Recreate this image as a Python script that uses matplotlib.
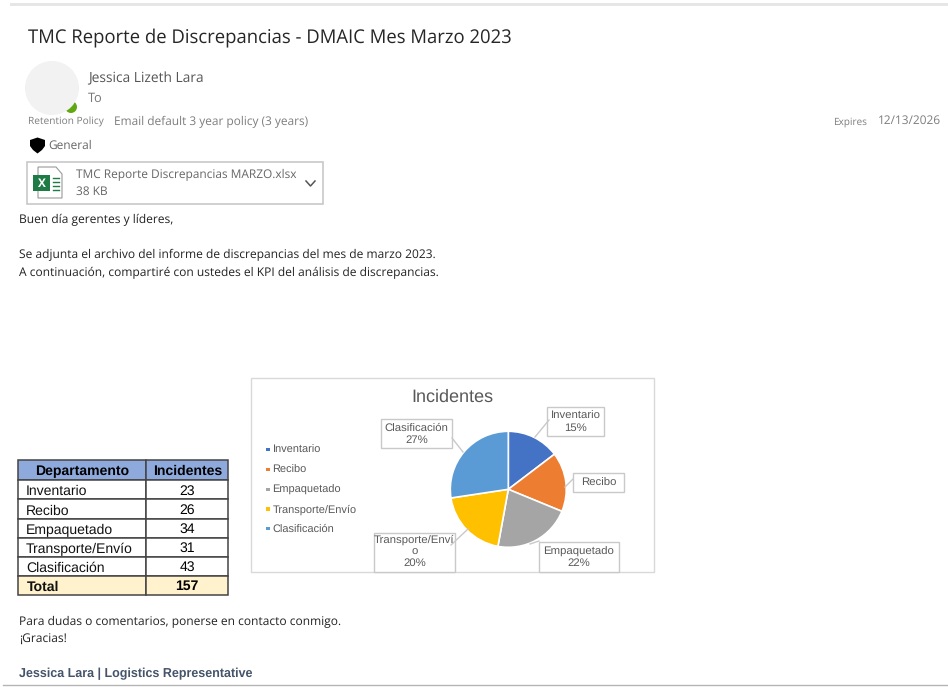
import matplotlib
matplotlib.use("Agg")
import matplotlib.pyplot as plt
from matplotlib.patches import Rectangle, Circle, Polygon

plt.rcParams["text.hinting"] = "no_hinting"

departments = ["Inventario", "Recibo", "Empaquetado", "Transporte/Envío", "Clasificación"]
incidents = [23, 26, 34, 31, 43]
total = 157
colors = ["#4472C4", "#ED7D31", "#A5A5A5", "#FFC000", "#5B9BD5"]
pie_labels = ["Inventario\n15%", "Recibo", "Empaquetado\n22%", "Transporte/Enví\no\n20%", "Clasificación\n27%"]

UI = "Open Sans"
ARIAL = "Liberation Sans"
INK = "#3a3a3a"
CHART = "#595959"
BODY = 8.62

fig = plt.figure(figsize=(9.48, 6.87), dpi=100)
ax = fig.add_axes([0, 0, 1, 1])
ax.set_xlim(0, 948)
ax.set_ylim(687, 0)
ax.axis("off")


def txt(x, y, s, size, color=INK, family=UI, ha="left", weight="normal", **kw):
    # text sat a bit high against the screenshot, so nudge it down
    ax.text(x, y + 1.5, s, fontsize=size, color=color, family=family, ha=ha, va="center",
            fontweight=weight, **kw)


def box(x0, y0, x1, y1, face="white", edge="#d0d0d0", lw=1.0, z=2):
    ax.add_patch(Rectangle((x0, y0), x1 - x0, y1 - y0, fc=face, ec=edge, lw=lw, zorder=z))


# email window edges
ax.fill_between([10, 948], 3, 6, color="#e6e6e6", lw=0)
ax.plot([3, 948], [685, 685], color="#b5b5b5", lw=1)

# header
txt(28, 36, "TMC Reporte de Discrepancias - DMAIC Mes Marzo 2023", 13.33, color="#262626")
ax.add_patch(Circle((71, 107), 6, fc="#5fa80f", ec="none"))
ax.add_patch(Circle((52, 88), 27, fc="#f2f2f2", ec="none", zorder=2))
txt(88, 77, "Jessica Lizeth Lara", 9.95, color="#555555")
txt(88, 97, "To", 9.2, color="#777777")
txt(28, 120.5, "Retention Policy", 7.3, color="#7d7d7d")
txt(114, 120, "Email default 3 year policy (3 years)", 8.6, color="#7d7d7d")
txt(833, 120.5, "Expires", 7.2, color="#7d7d7d")
txt(878, 119.5, "12/13/2026", 8.6, color="#7d7d7d")

# classification shield
ax.add_patch(Polygon([(30, 140), (37.5, 137.5), (45, 140), (45, 146), (42, 150), (37.5, 153.5),
                      (33, 150), (30, 146)], fc="black", ec="none"))
txt(48, 144.5, "General", 8.6, color="#666666")

# attachment
box(27.5, 161.5, 323.5, 203.5, edge="#c8c8c8", lw=1.2)
ax.add_patch(Polygon([(38, 167), (56, 167), (62, 174), (62, 198), (38, 198)], fc="white", ec="#9a9a9a", lw=0.8, zorder=3))
ax.add_patch(Rectangle((33.5, 175), 17, 16, fc="#1e7b45", ec="none", zorder=4))
ax.text(42, 183.5, "X", fontsize=8.5, color="white", family=UI, fontweight="bold", ha="center", va="center", zorder=5)
for row_y in (178, 182, 186, 190):
    ax.plot([53, 59], [row_y, row_y], color="#1e7b45", lw=1.0, zorder=4)
txt(76, 173.5, "TMC Reporte Discrepancias MARZO.xlsx", 8.6, color="#666666")
txt(76, 190, "38 KB", 8.6, color="#666666")
ax.plot([306, 310.5, 315], [181, 186, 181], color="#555555", lw=1.1)

# body
txt(19, 218, "Buen día gerentes y líderes,", BODY, color="#222222")
txt(19, 253.5, "Se adjunta el archivo del informe de discrepancias del mes de marzo 2023.", BODY, color="#222222")
txt(19, 271, "A continuación, compartiré con ustedes el KPI del análisis de discrepancias.", BODY, color="#222222")
txt(19, 620.5, "Para dudas o comentarios, ponerse en contacto conmigo.", BODY, color="#222222")
txt(19, 638, "¡Gracias!", BODY, color="#222222")
txt(19, 672.5, "Jessica Lara | Logistics Representative", 9.0, color="#44546A", family=ARIAL, weight="bold")

# table
col_x = [18.5, 146.5, 228]
row_y = [460, 480, 499, 518.5, 537.5, 556.5, 575.5, 594.5]
rows = [("Departamento", "Incidentes")] + list(zip(departments, incidents)) + [("Total", total)]
for i, (name, value) in enumerate(rows):
    face = "#8EA9DB" if i == 0 else "#FFF2CC" if i == len(rows) - 1 else "white"
    bold = "bold" if i == 0 or i == len(rows) - 1 else "normal"
    box(col_x[0], row_y[i], col_x[1], row_y[i + 1], face=face, edge="#444444", lw=1.1)
    box(col_x[1], row_y[i], col_x[2], row_y[i + 1], face=face, edge="#444444", lw=1.1)
    yc = (row_y[i] + row_y[i + 1]) / 2
    if i == 0:
        txt((col_x[0] + col_x[1]) / 2, yc, name, 10.05, color="black", family=ARIAL, ha="center", weight=bold, zorder=4)
    else:
        txt(26 if i < len(rows) - 1 else 27, yc + 0.7, name, 10.05, color="#111111", family=ARIAL, weight=bold, zorder=4)
    txt((col_x[1] + col_x[2]) / 2, yc, str(value), 10.05, color="black", family=ARIAL, ha="center", weight=bold, zorder=4)

# chart frame, title and legend
box(251.5, 377.5, 654, 572, edge="#d9d9d9", lw=1.0, z=1)
txt(452, 395.5, "Incidentes", 13, color=CHART, family=ARIAL, ha="center", zorder=3)
legend_y = [449.5, 469.5, 489.5, 509, 528.5]
for name, c, y in zip(departments, colors, legend_y):
    ax.add_patch(Rectangle((266, y - 1.7), 3.6, 3.6, fc=c, ec="none", zorder=3))
    txt(272.5, y - 1, name, 7.95, color=CHART, family=ARIAL, zorder=3)

# pie in its own axes, centred on the screenshot's pie
cx, cy, r = 508.3, 489.3, 58
pie_ax = fig.add_axes([(cx - r) / 948, 1 - (cy + r) / 687, 2 * r / 948, 2 * r / 687])
pie_ax.pie(incidents, colors=colors, startangle=90, counterclock=False, radius=1.0,
           wedgeprops={"edgecolor": "white", "linewidth": 1.2})
pie_ax.set_xlim(-1, 1)
pie_ax.set_ylim(-1, 1)
pie_ax.set_zorder(2)
pie_ax.patch.set_alpha(0)

# data label callouts, the two lowest are cut by the chart frame
overlay = fig.add_axes([0, 0, 1, 1])
overlay.set_xlim(0, 948)
overlay.set_ylim(687, 0)
overlay.axis("off")
overlay.set_zorder(3)
callouts = [
    ((547, 407, 604, 436), (535, 437, 549, 420), (575.5, 422)),
    ((573, 473, 624, 492), (565, 487, 573, 479), (598.5, 483)),
    ((539, 542, 619, 572), (530, 544, 539, 541), (578.5, 557.5)),
    ((374, 533, 455, 572), (468, 529, 451, 545), (414.5, 551.5)),
    ((381, 419, 452, 448), (463, 452, 452, 438), (416.5, 434)),
]
for ((x0, y0, x1, y1), (lx0, ly0, lx1, ly1), pos), label in zip(callouts, pie_labels):
    overlay.add_patch(Rectangle((x0, y0), x1 - x0, y1 - y0, fc="white", ec="#c9c9c9", lw=1.0))
    overlay.plot([lx0, lx1], [ly0, ly1], color="#c9c9c9", lw=1.0)
    overlay.text(pos[0], pos[1], label, fontsize=8.2, color=CHART, family=ARIAL, ha="center", va="center",
                 linespacing=1.15)

fig.savefig("out.png", dpi=100)
